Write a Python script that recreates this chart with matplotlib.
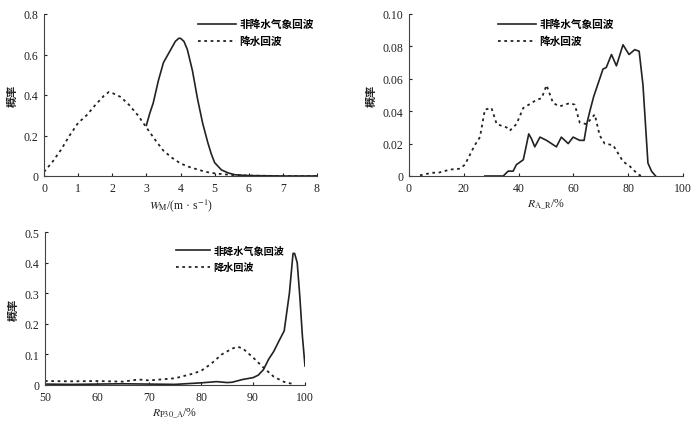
import matplotlib
matplotlib.use("Agg")
import matplotlib.pyplot as plt

plt.rcParams['font.family'] = ['Liberation Serif', 'Noto Sans CJK SC', 'DejaVu Sans']
plt.rcParams['mathtext.fontset'] = 'stix'

legend_labels = ['非降水气象回波', '降水回波']
ylabel = '概率'

# Panel 1: W_M
w_np_x = [3.0, 3.1, 3.2, 3.35, 3.5, 3.7, 3.85, 3.95, 4.0, 4.1, 4.2, 4.35, 4.5, 4.65, 4.8, 4.9, 5.0, 5.2, 5.4, 5.6, 6.0, 7.0, 8.0]
w_np_y = [0.25, 0.31, 0.36, 0.47, 0.56, 0.62, 0.665, 0.68, 0.68, 0.665, 0.625, 0.52, 0.38, 0.26, 0.165, 0.11, 0.066, 0.03, 0.015, 0.006, 0.002, 0.0, 0.0]
w_p_x = [0.0, 0.25, 0.5, 0.75, 1.0, 1.25, 1.5, 1.75, 1.9, 2.0, 2.25, 2.5, 2.75, 3.0, 3.25, 3.5, 3.75, 4.0, 4.25, 4.5, 4.75, 5.0, 5.5, 6.0, 7.0, 8.0]
w_p_y = [0.02, 0.07, 0.13, 0.2, 0.262, 0.3, 0.35, 0.395, 0.415, 0.41, 0.39, 0.35, 0.3, 0.24, 0.18, 0.125, 0.09, 0.062, 0.045, 0.032, 0.02, 0.013, 0.005, 0.002, 0.0, 0.0]

# Panel 2: R_A_R
r_np_x = [27.7, 34.4, 36.2, 38.0, 39.2, 41.7, 42.6, 43.7, 44.7, 45.9, 47.8, 50.2, 53.8, 55.6, 58.1, 59.9, 62.3, 63.9, 65.0, 66.0, 67.4, 69.6, 70.8, 72.0, 73.9, 75.7, 78.1, 80.3, 82.4, 84.0, 85.4, 87.2, 88.5, 90.0]
r_np_y = [0.0, 0.0, 0.003, 0.003, 0.007, 0.010, 0.017, 0.026, 0.023, 0.018, 0.024, 0.022, 0.018, 0.024, 0.020, 0.024, 0.022, 0.022, 0.033, 0.040, 0.049, 0.060, 0.066, 0.067, 0.075, 0.068, 0.081, 0.075, 0.078, 0.077, 0.056, 0.008, 0.003, 0.0]
r_p_x = [4.0, 8.3, 10.7, 15.0, 18.6, 20.4, 24.0, 25.9, 27.7, 30.1, 32.0, 35.6, 36.8, 39.2, 41.7, 44.7, 46.5, 48.4, 50.2, 52.6, 55.0, 58.7, 60.5, 62.3, 64.8, 67.8, 69.6, 71.4, 74.5, 78.1, 80.6, 83.0, 84.2, 86.0]
r_p_y = [0.0004, 0.002, 0.002, 0.004, 0.0045, 0.007, 0.019, 0.024, 0.041, 0.042, 0.032, 0.030, 0.028, 0.032, 0.042, 0.045, 0.047, 0.048, 0.056, 0.045, 0.043, 0.045, 0.044, 0.033, 0.032, 0.038, 0.025, 0.020, 0.019, 0.009, 0.006, 0.002, 0.0004, 0.0]

# Panel 3: R_P30_A
p_np_x = [50, 55, 60, 65, 70, 75, 78, 80, 83, 85, 86, 88, 90, 91, 92, 93, 94, 95, 96, 97, 97.7, 98.0, 98.5, 99.0, 99.5, 100]
p_np_y = [0.003, 0.002, 0.003, 0.004, 0.003, 0.002, 0.005, 0.007, 0.011, 0.008, 0.009, 0.018, 0.024, 0.032, 0.05, 0.084, 0.11, 0.144, 0.177, 0.30, 0.43, 0.43, 0.40, 0.29, 0.16, 0.062]
p_p_x = [50, 55, 60, 65, 68, 70, 75, 78, 80, 82, 84, 86, 87, 88, 90, 92, 94, 96, 98]
p_p_y = [0.013, 0.012, 0.013, 0.011, 0.018, 0.015, 0.022, 0.035, 0.046, 0.07, 0.10, 0.119, 0.125, 0.12, 0.09, 0.057, 0.027, 0.01, 0.002]

fig = plt.figure(figsize=(7.0, 4.35), dpi=100)
W, H = 700, 435

def make_ax(l, r, t, b):
    return fig.add_axes([l / W, 1 - b / H, (r - l) / W, (b - t) / H])

ax1 = make_ax(44, 317, 15, 177)
ax2 = make_ax(409, 683, 15, 177)
ax3 = make_ax(45, 305, 233, 386)

col = '#222222'
panels = [
    (ax1, w_np_x, w_np_y, w_p_x, w_p_y, (0, 8), range(0, 9), (0, 0.8), [0, 0.2, 0.4, 0.6, 0.8], ['0', '0.2', '0.4', '0.6', '0.8'],
     r'$W_{\mathrm{M}}$/(m · s$^{-1}$)', (0.55, 0.995), 7.7, 3.5),
    (ax2, r_np_x, r_np_y, r_p_x, r_p_y, (0, 100), range(0, 101, 20), (0, 0.10), [0, 0.02, 0.04, 0.06, 0.08, 0.10], ['0', '0.02', '0.04', '0.06', '0.08', '0.10'],
     r'$R_{\mathrm{A\_R}}$/%', (0.31, 0.995), 7.7, 3.5),
    (ax3, p_np_x, p_np_y, p_p_x, p_p_y, (50, 100), range(50, 101, 10), (0, 0.5), [0, 0.1, 0.2, 0.3, 0.4, 0.5], ['0', '0.1', '0.2', '0.3', '0.4', '0.5'],
     r'$R_{\mathrm{P30\_A}}$/%', (0.49, 0.935), 7.3, 3.3),
]

for ax, nx, ny, px, py, xl, xt, yl, yt, ytl, xlab, lpos, lfs, hl in panels:
    ax.plot(nx, ny, color=col, lw=1.2, ls='-', label=legend_labels[0])
    ax.plot(px, py, color=col, lw=1.3, ls=(0, (1.5, 2.0)), label=legend_labels[1])
    ax.set_xlim(*xl)
    ax.set_ylim(*yl)
    ax.set_xticks(list(xt))
    ax.set_yticks(yt)
    ax.set_yticklabels(ytl)
    for s in ['top', 'right']:
        ax.spines[s].set_visible(False)
    for s in ['left', 'bottom']:
        ax.spines[s].set_color('#444444')
        ax.spines[s].set_linewidth(0.8)
    ax.tick_params(direction='in', length=2, width=0.8, labelsize=8.5, colors='#222222', pad=4)
    ax.set_xlabel(xlab, fontsize=8.5, color='#222222', labelpad=2)
    ax.set_ylabel(ylabel, fontsize=8, color='#222222', labelpad=4, fontweight='bold')
    ax.legend(loc='upper left', bbox_to_anchor=lpos, frameon=False,
              prop={'size': lfs, 'weight': 'bold'},
              handlelength=hl, handletextpad=0.35, labelspacing=0.6, borderaxespad=0)

fig.savefig('out.png', dpi=100)
